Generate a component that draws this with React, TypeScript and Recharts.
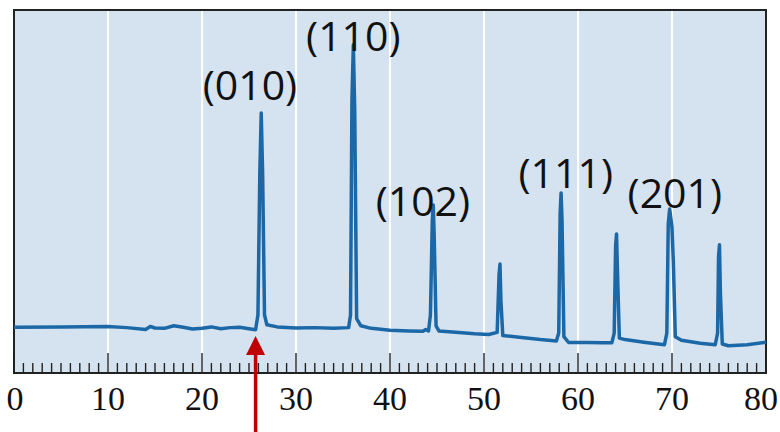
import { ComposedChart, Line, XAxis, YAxis, CartesianGrid, ReferenceDot, ReferenceArea } from "recharts";

// 2θ (deg) and intensity (a.u., 0-100 plot scale)
const twoTheta = [
  0, 5, 10, 12, 14, 14.5, 15, 16, 17, 18, 19, 20, 21, 22, 23, 24, 25, 25.7,
  25.95, 26.15, 26.3, 26.45, 26.65, 26.9, 28, 30, 32, 34, 35.6,
  35.8, 35.95, 36.1, 36.25, 36.45, 36.9, 38, 40, 42, 43.5, 43.8, 44.1,
  44.3, 44.5, 44.6, 44.7, 44.9, 45.2, 47, 49, 50.5, 51.4,
  51.6, 51.7, 51.8, 52.0, 54, 56, 57.7,
  57.95, 58.1, 58.2, 58.3, 58.5, 59, 61, 62.5, 63.6,
  63.85, 64.0, 64.1, 64.2, 64.4, 65, 67, 69.2,
  69.45, 69.6, 69.75, 70.0, 70.15, 70.35, 71, 73, 74.6,
  74.85, 74.95, 75.05, 75.15, 75.35, 76, 78, 80,
];
const intensity = [
  12.6, 12.7, 12.8, 12.5, 12.0, 12.8, 12.4, 12.3, 13.0, 12.6, 12.1, 12.3, 12.7, 12.2, 12.5, 12.6, 12.2, 11.9,
  16, 55, 71.6, 55, 16, 13.3, 12.7, 12.4, 12.5, 12.3, 12.5,
  16, 75, 90.4, 72, 15, 13.0, 12.3, 11.8, 11.6, 11.5, 12.0, 11.6,
  16, 42, 46.3, 38, 13, 11.6, 11.2, 10.8, 10.6, 11.2,
  27, 30, 20, 10.3, 9.8, 9.2, 8.8,
  11, 44, 49.6, 42, 10, 8.4, 8.4, 8.3, 8.3,
  11, 35, 38.3, 28, 9.6, 9.2, 8.5, 7.8,
  11, 41, 45.2, 40, 30, 10, 9.0, 8.2, 7.8,
  11, 32, 35.3, 22, 8, 7.5, 7.8, 8.5,
];

const xTicks = Array.from({ length: 81 }, (_, i) => i);
const gridValues = [10, 20, 30, 40, 50, 60, 70];

const peakLabels = ["(010)", "(110)", "(102)", "(111)", "(201)"];
const labelX = [25.1, 36.1, 43.5, 58.7, 70.3];
const labelY = [79.6, 93.1, 47.7, 55.4, 49.9];

const arrowX = 25.7;

const data = twoTheta.map((t, i) => ({ t, v: intensity[i] }));

const AxisTick = (props: any) => {
  const { x, y, payload } = props;
  const major = payload.value % 10 === 0;
  const tx = payload.value === 80 ? x - 5 : payload.value === 0 ? x + 1 : x;
  return (
    <g>
      <line x1={x} y1={y} x2={x} y2={y - (major ? 20 : 10)} stroke="#222" strokeWidth={1.4} />
      {major && (
        <text x={tx} y={y + 37} textAnchor="middle" fontFamily="'Liberation Serif', serif" fontSize={34} fill="#111">
          {payload.value}
        </text>
      )}
    </g>
  );
};

const Arrow = (props: any) => {
  const { cx, cy } = props;
  return (
    <g>
      <line x1={cx} y1={cy - 20} x2={cx} y2={cy + 62} stroke="#c00000" strokeWidth={3.5} />
      <polygon points={`${cx},${cy - 37} ${cx - 9.5},${cy - 18} ${cx + 9.5},${cy - 18}`} fill="#c00000" />
    </g>
  );
};

export default function App() {
  return (
    <div style={{ position: "absolute", left: 0, top: 0, width: 780, height: 432, background: "#fff" }}>
      <ComposedChart width={780} height={432} data={data} margin={{ top: 10, right: 14, left: 14, bottom: 0 }}>
        <CartesianGrid fill="#d5e3f0" horizontal={false} verticalValues={gridValues} stroke="#ffffff" strokeWidth={2} />
        <XAxis
          dataKey="t"
          type="number"
          domain={[0, 80]}
          ticks={xTicks}
          interval={0}
          height={59}
          tickSize={0}
          tickMargin={0}
          tickLine={false}
          axisLine={{ stroke: "#222", strokeWidth: 2 }}
          tick={<AxisTick />}
        />
        <YAxis type="number" domain={[0, 100]} hide />
        <ReferenceArea x1={0} x2={80} y1={0} y2={100} fill="none" stroke="#222" strokeWidth={2} ifOverflow="visible" />
        <Line type="linear" dataKey="v" stroke="#1c68a6" strokeWidth={3.5} dot={false} isAnimationActive={false} strokeLinejoin="round" />
        {peakLabels.map((lab, i) => (
          <ReferenceDot
            key={lab}
            x={labelX[i]}
            y={labelY[i]}
            r={0}
            ifOverflow="visible"
            shape={(p: any) => (
              <text x={p.cx} y={p.cy} textAnchor="middle" dominantBaseline="central" fontFamily="'Open Sans', 'Noto Sans', sans-serif" fontSize={41} fill="#111">
                {lab}
              </text>
            )}
          />
        ))}
        <ReferenceDot x={arrowX} y={0} r={0} ifOverflow="visible" shape={<Arrow />} />
      </ComposedChart>
    </div>
  );
}
